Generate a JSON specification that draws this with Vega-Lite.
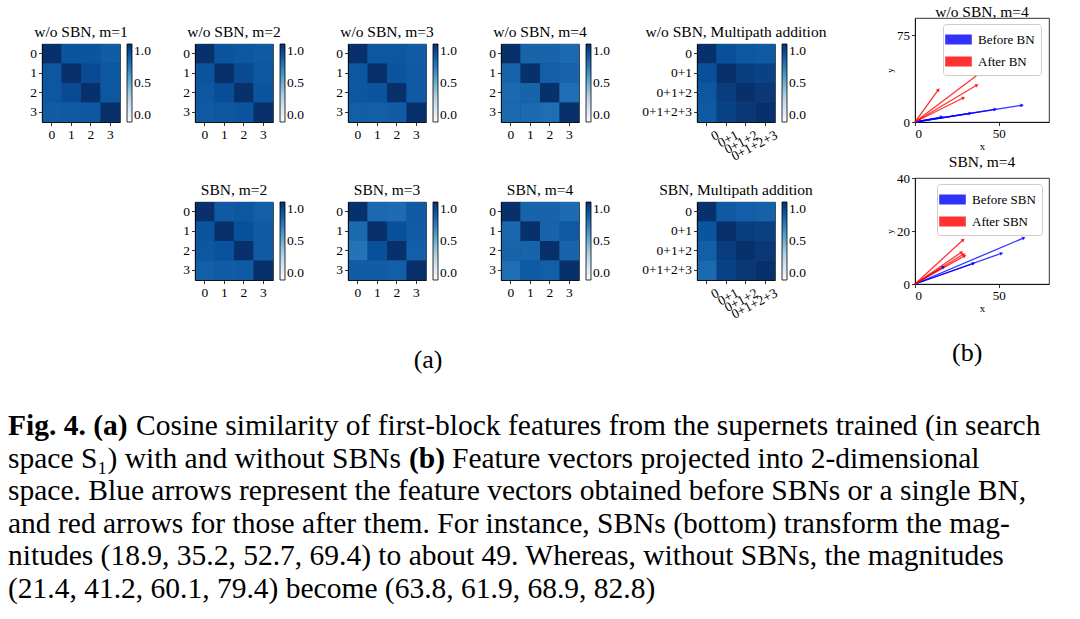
{
 "$schema": "https://vega.github.io/schema/vega-lite/v6.json",
 "background": "white",
 "autosize": {"type": "pad"},
 "padding": {"left": 8, "top": 4, "right": 4, "bottom": 0},
 "datasets": {
  "hm": [
   {"p":"A1","r":"0","c":"0","v":1},{"p":"A1","r":"0","c":"1","v":0.86},{"p":"A1","r":"0","c":"2","v":0.86},{"p":"A1","r":"0","c":"3","v":0.83},
   {"p":"A1","r":"1","c":"0","v":0.85},{"p":"A1","r":"1","c":"1","v":1},{"p":"A1","r":"1","c":"2","v":0.9},{"p":"A1","r":"1","c":"3","v":0.85},
   {"p":"A1","r":"2","c":"0","v":0.85},{"p":"A1","r":"2","c":"1","v":0.9},{"p":"A1","r":"2","c":"2","v":1},{"p":"A1","r":"2","c":"3","v":0.85},
   {"p":"A1","r":"3","c":"0","v":0.83},{"p":"A1","r":"3","c":"1","v":0.84},{"p":"A1","r":"3","c":"2","v":0.85},{"p":"A1","r":"3","c":"3","v":1},
   {"p":"A2","r":"0","c":"0","v":1},{"p":"A2","r":"0","c":"1","v":0.86},{"p":"A2","r":"0","c":"2","v":0.85},{"p":"A2","r":"0","c":"3","v":0.84},
   {"p":"A2","r":"1","c":"0","v":0.86},{"p":"A2","r":"1","c":"1","v":1},{"p":"A2","r":"1","c":"2","v":0.9},{"p":"A2","r":"1","c":"3","v":0.85},
   {"p":"A2","r":"2","c":"0","v":0.85},{"p":"A2","r":"2","c":"1","v":0.89},{"p":"A2","r":"2","c":"2","v":1},{"p":"A2","r":"2","c":"3","v":0.86},
   {"p":"A2","r":"3","c":"0","v":0.84},{"p":"A2","r":"3","c":"1","v":0.85},{"p":"A2","r":"3","c":"2","v":0.86},{"p":"A2","r":"3","c":"3","v":1},
   {"p":"A3","r":"0","c":"0","v":1},{"p":"A3","r":"0","c":"1","v":0.85},{"p":"A3","r":"0","c":"2","v":0.85},{"p":"A3","r":"0","c":"3","v":0.83},
   {"p":"A3","r":"1","c":"0","v":0.85},{"p":"A3","r":"1","c":"1","v":1},{"p":"A3","r":"1","c":"2","v":0.86},{"p":"A3","r":"1","c":"3","v":0.84},
   {"p":"A3","r":"2","c":"0","v":0.85},{"p":"A3","r":"2","c":"1","v":0.86},{"p":"A3","r":"2","c":"2","v":1},{"p":"A3","r":"2","c":"3","v":0.84},
   {"p":"A3","r":"3","c":"0","v":0.82},{"p":"A3","r":"3","c":"1","v":0.82},{"p":"A3","r":"3","c":"2","v":0.83},{"p":"A3","r":"3","c":"3","v":1},
   {"p":"A4","r":"0","c":"0","v":1},{"p":"A4","r":"0","c":"1","v":0.8},{"p":"A4","r":"0","c":"2","v":0.8},{"p":"A4","r":"0","c":"3","v":0.78},
   {"p":"A4","r":"1","c":"0","v":0.8},{"p":"A4","r":"1","c":"1","v":1},{"p":"A4","r":"1","c":"2","v":0.82},{"p":"A4","r":"1","c":"3","v":0.8},
   {"p":"A4","r":"2","c":"0","v":0.78},{"p":"A4","r":"2","c":"1","v":0.8},{"p":"A4","r":"2","c":"2","v":1},{"p":"A4","r":"2","c":"3","v":0.76},
   {"p":"A4","r":"3","c":"0","v":0.78},{"p":"A4","r":"3","c":"1","v":0.78},{"p":"A4","r":"3","c":"2","v":0.76},{"p":"A4","r":"3","c":"3","v":1},
   {"p":"A5","r":"0","c":"0","v":1},{"p":"A5","r":"0","c":"0+1","v":0.88},{"p":"A5","r":"0","c":"0+1+2","v":0.85},{"p":"A5","r":"0","c":"0+1+2+3","v":0.84},
   {"p":"A5","r":"0+1","c":"0","v":0.88},{"p":"A5","r":"0+1","c":"0+1","v":1},{"p":"A5","r":"0+1","c":"0+1+2","v":0.95},{"p":"A5","r":"0+1","c":"0+1+2+3","v":0.93},
   {"p":"A5","r":"0+1+2","c":"0","v":0.85},{"p":"A5","r":"0+1+2","c":"0+1","v":0.95},{"p":"A5","r":"0+1+2","c":"0+1+2","v":1},{"p":"A5","r":"0+1+2","c":"0+1+2+3","v":0.97},
   {"p":"A5","r":"0+1+2+3","c":"0","v":0.84},{"p":"A5","r":"0+1+2+3","c":"0+1","v":0.93},{"p":"A5","r":"0+1+2+3","c":"0+1+2","v":0.97},{"p":"A5","r":"0+1+2+3","c":"0+1+2+3","v":1},
   {"p":"B2","r":"0","c":"0","v":1},{"p":"B2","r":"0","c":"1","v":0.84},{"p":"B2","r":"0","c":"2","v":0.85},{"p":"B2","r":"0","c":"3","v":0.82},
   {"p":"B2","r":"1","c":"0","v":0.86},{"p":"B2","r":"1","c":"1","v":1},{"p":"B2","r":"1","c":"2","v":0.88},{"p":"B2","r":"1","c":"3","v":0.84},
   {"p":"B2","r":"2","c":"0","v":0.85},{"p":"B2","r":"2","c":"1","v":0.87},{"p":"B2","r":"2","c":"2","v":1},{"p":"B2","r":"2","c":"3","v":0.84},
   {"p":"B2","r":"3","c":"0","v":0.82},{"p":"B2","r":"3","c":"1","v":0.83},{"p":"B2","r":"3","c":"2","v":0.84},{"p":"B2","r":"3","c":"3","v":1},
   {"p":"B3","r":"0","c":"0","v":1},{"p":"B3","r":"0","c":"1","v":0.78},{"p":"B3","r":"0","c":"2","v":0.77},{"p":"B3","r":"0","c":"3","v":0.84},
   {"p":"B3","r":"1","c":"0","v":0.78},{"p":"B3","r":"1","c":"1","v":1},{"p":"B3","r":"1","c":"2","v":0.88},{"p":"B3","r":"1","c":"3","v":0.83},
   {"p":"B3","r":"2","c":"0","v":0.74},{"p":"B3","r":"2","c":"1","v":0.88},{"p":"B3","r":"2","c":"2","v":1},{"p":"B3","r":"2","c":"3","v":0.82},
   {"p":"B3","r":"3","c":"0","v":0.83},{"p":"B3","r":"3","c":"1","v":0.83},{"p":"B3","r":"3","c":"2","v":0.82},{"p":"B3","r":"3","c":"3","v":1},
   {"p":"B4","r":"0","c":"0","v":1},{"p":"B4","r":"0","c":"1","v":0.8},{"p":"B4","r":"0","c":"2","v":0.8},{"p":"B4","r":"0","c":"3","v":0.77},
   {"p":"B4","r":"1","c":"0","v":0.79},{"p":"B4","r":"1","c":"1","v":1},{"p":"B4","r":"1","c":"2","v":0.8},{"p":"B4","r":"1","c":"3","v":0.84},
   {"p":"B4","r":"2","c":"0","v":0.8},{"p":"B4","r":"2","c":"1","v":0.8},{"p":"B4","r":"2","c":"2","v":1},{"p":"B4","r":"2","c":"3","v":0.8},
   {"p":"B4","r":"3","c":"0","v":0.76},{"p":"B4","r":"3","c":"1","v":0.84},{"p":"B4","r":"3","c":"2","v":0.82},{"p":"B4","r":"3","c":"3","v":1},
   {"p":"B5","r":"0","c":"0","v":1},{"p":"B5","r":"0","c":"0+1","v":0.84},{"p":"B5","r":"0","c":"0+1+2","v":0.82},{"p":"B5","r":"0","c":"0+1+2+3","v":0.81},
   {"p":"B5","r":"0+1","c":"0","v":0.86},{"p":"B5","r":"0+1","c":"0+1","v":1},{"p":"B5","r":"0+1","c":"0+1+2","v":0.95},{"p":"B5","r":"0+1","c":"0+1+2+3","v":0.94},
   {"p":"B5","r":"0+1+2","c":"0","v":0.82},{"p":"B5","r":"0+1+2","c":"0+1","v":0.95},{"p":"B5","r":"0+1+2","c":"0+1+2","v":1},{"p":"B5","r":"0+1+2","c":"0+1+2+3","v":0.97},
   {"p":"B5","r":"0+1+2+3","c":"0","v":0.78},{"p":"B5","r":"0+1+2+3","c":"0+1","v":0.93},{"p":"B5","r":"0+1+2+3","c":"0+1+2","v":0.97},{"p":"B5","r":"0+1+2+3","c":"0+1+2+3","v":1}
  ],
  "arrA": [
   {"g":"Before BN","x":16,"y":4.5},{"g":"Before BN","x":33,"y":7.5},{"g":"Before BN","x":48,"y":11},{"g":"Before BN","x":64,"y":14.5},
   {"g":"After BN","x":14,"y":28},{"g":"After BN","x":29,"y":21},{"g":"After BN","x":37,"y":32},{"g":"After BN","x":44,"y":48}
  ],
  "arrB": [
   {"g":"Before SBN","x":17,"y":6.5},{"g":"Before SBN","x":35,"y":7.8},{"g":"Before SBN","x":51.7,"y":11.6},{"g":"Before SBN","x":65,"y":17.4},
   {"g":"After SBN","x":28.8,"y":16.7},{"g":"After SBN","x":27.8,"y":12},{"g":"After SBN","x":29.8,"y":10.7},{"g":"After SBN","x":29,"y":11.3}
  ],
  "cap": [
   {"l":1,"k":"b0","t":"Fig. 4. (a)"},
   {"l":1,"k":"n1","t":"Cosine similarity of first-block features from the supernets trained (in search"},
   {"l":2,"k":"n","t":"space S₁) with and without SBNs"},
   {"l":2,"k":"b2","t":"(b)"},
   {"l":2,"k":"n2","t":"Feature vectors projected into 2-dimensional"},
   {"l":3,"k":"n","t":"space. Blue arrows represent the feature vectors obtained before SBNs or a single BN,"},
   {"l":4,"k":"n","t":"and red arrows for those after them. For instance, SBNs (bottom) transform the mag-"},
   {"l":5,"k":"n","t":"nitudes (18.9, 35.2, 52.7, 69.4) to about 49. Whereas, without SBNs, the magnitudes"},
   {"l":6,"k":"n","t":"(21.4, 41.2, 60.1, 79.4) become (63.8, 61.9, 68.9, 82.8)"}
  ]
 },
 "vconcat": [
  {
   "hconcat": [
    {
     "vconcat": [
      {"width": 10, "height": 1, "data": {"values": [{"a": 1}]}, "mark": {"type": "text", "text": ""}, "encoding": {}, "view": {"stroke": null}},
      {
       "columns": 5,
       "align": "each",
       "spacing": {"row": 18, "column": 30},
       "resolve": {"scale": {"color": "independent", "x": "independent", "y": "independent"}, "legend": {"color": "independent"}},
       "concat": [
        {"title": "w/o SBN, m=1", "width": 78, "height": 78, "view": {"fill": "#0b559f"}, "data": {"name": "hm"}, "transform": [{"filter": "datum.p == 'A1'"}], "mark": "rect",
         "encoding": {"x": {"field": "c", "type": "ordinal", "axis": {"title": null, "labelAngle": 0}}, "y": {"field": "r", "type": "ordinal", "axis": {"title": null}},
          "color": {"field": "v", "type": "quantitative", "scale": {"domain": [0, 0.125, 0.25, 0.375, 0.5, 0.625, 0.75, 0.875, 1], "range": ["#f7fbff", "#deebf7", "#c6dbef", "#9ecae1", "#6baed6", "#4292c6", "#2171b5", "#08519c", "#08306b"]}, "legend": {"type": "gradient", "title": null, "values": [0, 0.5, 1], "format": ".1f"}}}},
        {"title": "w/o SBN, m=2", "width": 78, "height": 78, "view": {"fill": "#0b559f"}, "data": {"name": "hm"}, "transform": [{"filter": "datum.p == 'A2'"}], "mark": "rect",
         "encoding": {"x": {"field": "c", "type": "ordinal", "axis": {"title": null, "labelAngle": 0}}, "y": {"field": "r", "type": "ordinal", "axis": {"title": null}},
          "color": {"field": "v", "type": "quantitative", "scale": {"domain": [0, 0.125, 0.25, 0.375, 0.5, 0.625, 0.75, 0.875, 1], "range": ["#f7fbff", "#deebf7", "#c6dbef", "#9ecae1", "#6baed6", "#4292c6", "#2171b5", "#08519c", "#08306b"]}, "legend": {"type": "gradient", "title": null, "values": [0, 0.5, 1], "format": ".1f"}}}},
        {"title": "w/o SBN, m=3", "width": 78, "height": 78, "view": {"fill": "#0b559f"}, "data": {"name": "hm"}, "transform": [{"filter": "datum.p == 'A3'"}], "mark": "rect",
         "encoding": {"x": {"field": "c", "type": "ordinal", "axis": {"title": null, "labelAngle": 0}}, "y": {"field": "r", "type": "ordinal", "axis": {"title": null}},
          "color": {"field": "v", "type": "quantitative", "scale": {"domain": [0, 0.125, 0.25, 0.375, 0.5, 0.625, 0.75, 0.875, 1], "range": ["#f7fbff", "#deebf7", "#c6dbef", "#9ecae1", "#6baed6", "#4292c6", "#2171b5", "#08519c", "#08306b"]}, "legend": {"type": "gradient", "title": null, "values": [0, 0.5, 1], "format": ".1f"}}}},
        {"title": "w/o SBN, m=4", "width": 78, "height": 78, "view": {"fill": "#0b559f"}, "data": {"name": "hm"}, "transform": [{"filter": "datum.p == 'A4'"}], "mark": "rect",
         "encoding": {"x": {"field": "c", "type": "ordinal", "axis": {"title": null, "labelAngle": 0}}, "y": {"field": "r", "type": "ordinal", "axis": {"title": null}},
          "color": {"field": "v", "type": "quantitative", "scale": {"domain": [0, 0.125, 0.25, 0.375, 0.5, 0.625, 0.75, 0.875, 1], "range": ["#f7fbff", "#deebf7", "#c6dbef", "#9ecae1", "#6baed6", "#4292c6", "#2171b5", "#08519c", "#08306b"]}, "legend": {"type": "gradient", "title": null, "values": [0, 0.5, 1], "format": ".1f"}}}},
        {"title": "w/o SBN, Multipath addition", "width": 78, "height": 78, "view": {"fill": "#0b559f"}, "data": {"name": "hm"}, "transform": [{"filter": "datum.p == 'A5'"}], "mark": "rect",
         "encoding": {"x": {"field": "c", "type": "ordinal", "axis": {"title": null, "labelAngle": -28, "labelAlign": "right", "labelBaseline": "top", "labelOffset": 8}},
          "y": {"field": "r", "type": "ordinal", "axis": {"title": null}},
          "color": {"field": "v", "type": "quantitative", "scale": {"domain": [0, 0.125, 0.25, 0.375, 0.5, 0.625, 0.75, 0.875, 1], "range": ["#f7fbff", "#deebf7", "#c6dbef", "#9ecae1", "#6baed6", "#4292c6", "#2171b5", "#08519c", "#08306b"]}, "legend": {"type": "gradient", "title": null, "values": [0, 0.5, 1], "format": ".1f"}}}},
        {"width": 78, "height": 78, "data": {"values": [{"a": 1}]}, "mark": {"type": "text", "text": ""}, "encoding": {}, "view": {"stroke": null}},
        {"title": "SBN, m=2", "width": 78, "height": 78, "view": {"fill": "#0b559f"}, "data": {"name": "hm"}, "transform": [{"filter": "datum.p == 'B2'"}], "mark": "rect",
         "encoding": {"x": {"field": "c", "type": "ordinal", "axis": {"title": null, "labelAngle": 0}}, "y": {"field": "r", "type": "ordinal", "axis": {"title": null}},
          "color": {"field": "v", "type": "quantitative", "scale": {"domain": [0, 0.125, 0.25, 0.375, 0.5, 0.625, 0.75, 0.875, 1], "range": ["#f7fbff", "#deebf7", "#c6dbef", "#9ecae1", "#6baed6", "#4292c6", "#2171b5", "#08519c", "#08306b"]}, "legend": {"type": "gradient", "title": null, "values": [0, 0.5, 1], "format": ".1f"}}}},
        {"title": "SBN, m=3", "width": 78, "height": 78, "view": {"fill": "#0b559f"}, "data": {"name": "hm"}, "transform": [{"filter": "datum.p == 'B3'"}], "mark": "rect",
         "encoding": {"x": {"field": "c", "type": "ordinal", "axis": {"title": null, "labelAngle": 0}}, "y": {"field": "r", "type": "ordinal", "axis": {"title": null}},
          "color": {"field": "v", "type": "quantitative", "scale": {"domain": [0, 0.125, 0.25, 0.375, 0.5, 0.625, 0.75, 0.875, 1], "range": ["#f7fbff", "#deebf7", "#c6dbef", "#9ecae1", "#6baed6", "#4292c6", "#2171b5", "#08519c", "#08306b"]}, "legend": {"type": "gradient", "title": null, "values": [0, 0.5, 1], "format": ".1f"}}}},
        {"title": "SBN, m=4", "width": 78, "height": 78, "view": {"fill": "#0b559f"}, "data": {"name": "hm"}, "transform": [{"filter": "datum.p == 'B4'"}], "mark": "rect",
         "encoding": {"x": {"field": "c", "type": "ordinal", "axis": {"title": null, "labelAngle": 0}}, "y": {"field": "r", "type": "ordinal", "axis": {"title": null}},
          "color": {"field": "v", "type": "quantitative", "scale": {"domain": [0, 0.125, 0.25, 0.375, 0.5, 0.625, 0.75, 0.875, 1], "range": ["#f7fbff", "#deebf7", "#c6dbef", "#9ecae1", "#6baed6", "#4292c6", "#2171b5", "#08519c", "#08306b"]}, "legend": {"type": "gradient", "title": null, "values": [0, 0.5, 1], "format": ".1f"}}}},
        {"title": "SBN, Multipath addition", "width": 78, "height": 78, "view": {"fill": "#0b559f"}, "data": {"name": "hm"}, "transform": [{"filter": "datum.p == 'B5'"}], "mark": "rect",
         "encoding": {"x": {"field": "c", "type": "ordinal", "axis": {"title": null, "labelAngle": -28, "labelAlign": "right", "labelBaseline": "top", "labelOffset": 8}},
          "y": {"field": "r", "type": "ordinal", "axis": {"title": null}},
          "color": {"field": "v", "type": "quantitative", "scale": {"domain": [0, 0.125, 0.25, 0.375, 0.5, 0.625, 0.75, 0.875, 1], "range": ["#f7fbff", "#deebf7", "#c6dbef", "#9ecae1", "#6baed6", "#4292c6", "#2171b5", "#08519c", "#08306b"]}, "legend": {"type": "gradient", "title": null, "values": [0, 0.5, 1], "format": ".1f"}}}}
       ]
      }
     ],
     "spacing": 0,
     "title": {"text": "(a)", "orient": "bottom", "anchor": "middle", "fontSize": 26, "offset": 26},
     "resolve": {"scale": {"color": "independent", "x": "independent", "y": "independent"}, "legend": {"color": "independent"}}
    },
    {
     "vconcat": [
      {"title": {"text": "w/o SBN, m=4", "offset": -2}, "width": 134, "height": 104, "data": {"name": "arrA"},
       "layer": [
        {"mark": {"type": "rule", "strokeWidth": 1.3, "opacity": 0.8},
         "encoding": {
          "x": {"field": "x", "type": "quantitative", "scale": {"domain": [0, 80], "nice": false}, "axis": {"values": [0, 50], "title": "x", "titleFontSize": 11, "titlePadding": 0, "labelFontSize": 13, "labelOverlap": false}},
          "x2": {"datum": 0},
          "y": {"field": "y", "type": "quantitative", "scale": {"domain": [0, 90], "nice": false}, "axis": {"values": [0, 25, 50, 75], "title": "y", "titleFontSize": 9, "titlePadding": 2, "labelFontSize": 13, "labelOverlap": false}},
          "y2": {"datum": 0},
          "color": {"field": "g", "type": "nominal", "scale": {"domain": ["Before BN", "After BN"], "range": ["#0000ff", "#ff0000"]},
           "legend": {"title": null, "orient": "none", "legendX": 28, "legendY": 6, "padding": 6, "strokeColor": "#cccccc", "fillColor": "white", "cornerRadius": 3,
            "symbolType": "M-1.5,-0.5L1.5,-0.5L1.5,0.5L-1.5,0.5Z", "symbolSize": 280, "labelFontSize": 13, "rowPadding": 5, "labelOffset": 10,
            "encode": {"symbols": {"update": {"fill": {"signal": "datum.value === 'Before BN' ? '#0000ff' : '#ff0000'"}, "strokeWidth": {"value": 0}, "opacity": {"value": 1}}}}}}
         }},
        {"transform": [{"calculate": "90 - atan2(datum.y*1.156, datum.x*1.675)*180/PI", "as": "ang"}],
         "mark": {"type": "point", "shape": "triangle-up", "filled": true, "size": 16, "opacity": 0.8},
         "encoding": {"x": {"field": "x", "type": "quantitative"}, "y": {"field": "y", "type": "quantitative"}, "color": {"field": "g", "type": "nominal"}, "angle": {"field": "ang", "type": "quantitative", "scale": null}}}
       ]},
      {"title": {"text": "SBN, m=4", "offset": 2}, "width": 134, "height": 106, "data": {"name": "arrB"},
       "layer": [
        {"mark": {"type": "rule", "strokeWidth": 1.3, "opacity": 0.8},
         "encoding": {
          "x": {"field": "x", "type": "quantitative", "scale": {"domain": [0, 80], "nice": false}, "axis": {"values": [0, 50], "title": "x", "titleFontSize": 11, "titlePadding": 0, "labelFontSize": 13, "labelOverlap": false}},
          "x2": {"datum": 0},
          "y": {"field": "y", "type": "quantitative", "scale": {"domain": [0, 40], "nice": false}, "axis": {"values": [0, 10, 20, 30, 40], "title": "y", "titleFontSize": 9, "titlePadding": 2, "labelFontSize": 13, "labelOverlap": false}},
          "y2": {"datum": 0},
          "color": {"field": "g", "type": "nominal", "scale": {"domain": ["Before SBN", "After SBN"], "range": ["#0000ff", "#ff0000"]},
           "legend": {"title": null, "orient": "none", "legendX": 22, "legendY": 6, "padding": 6, "strokeColor": "#cccccc", "fillColor": "white", "cornerRadius": 3,
            "symbolType": "M-1.5,-0.5L1.5,-0.5L1.5,0.5L-1.5,0.5Z", "symbolSize": 280, "labelFontSize": 13, "rowPadding": 5, "labelOffset": 10,
            "encode": {"symbols": {"update": {"fill": {"signal": "datum.value === 'Before SBN' ? '#0000ff' : '#ff0000'"}, "strokeWidth": {"value": 0}, "opacity": {"value": 1}}}}}}
         }},
        {"transform": [{"calculate": "90 - atan2(datum.y*2.65, datum.x*1.675)*180/PI", "as": "ang"}],
         "mark": {"type": "point", "shape": "triangle-up", "filled": true, "size": 16, "opacity": 0.8},
         "encoding": {"x": {"field": "x", "type": "quantitative"}, "y": {"field": "y", "type": "quantitative"}, "color": {"field": "g", "type": "nominal"}, "angle": {"field": "ang", "type": "quantitative", "scale": null}}}
       ]}
     ],
     "spacing": 2,
     "title": {"text": "(b)", "orient": "bottom", "anchor": "middle", "fontSize": 26, "offset": 26},
     "resolve": {"scale": {"color": "independent", "x": "independent", "y": "independent"}, "legend": {"color": "independent"}}
    }
   ],
   "spacing": 58,
   "resolve": {"scale": {"color": "independent", "x": "independent", "y": "independent"}, "legend": {"color": "independent"}}
  },
  {
   "width": 1040, "height": 195, "data": {"name": "cap"}, "view": {"stroke": null},
   "encoding": {"y": {"field": "l", "type": "ordinal", "axis": null}, "x": {"value": 0}, "text": {"field": "t"}},
   "layer": [
    {"transform": [{"filter": "datum.k == 'b0'"}], "mark": {"type": "text", "align": "left", "baseline": "middle", "fontSize": 29.5, "fontWeight": "bold", "dx": -34}},
    {"transform": [{"filter": "datum.k == 'n1'"}], "mark": {"type": "text", "align": "left", "baseline": "middle", "fontSize": 29.5, "dx": 94}},
    {"transform": [{"filter": "datum.k == 'n'"}], "mark": {"type": "text", "align": "left", "baseline": "middle", "fontSize": 29.5, "dx": -34}},
    {"transform": [{"filter": "datum.k == 'b2'"}], "mark": {"type": "text", "align": "left", "baseline": "middle", "fontSize": 29.5, "fontWeight": "bold", "dx": 367}},
    {"transform": [{"filter": "datum.k == 'n2'"}], "mark": {"type": "text", "align": "left", "baseline": "middle", "fontSize": 29.5, "dx": 410}}
   ]
  }
 ],
 "spacing": 36,
 "resolve": {"scale": {"color": "independent", "x": "independent", "y": "independent"}, "legend": {"color": "independent"}},
 "config": {
  "font": "Liberation Serif",
  "view": {"stroke": "black", "strokeWidth": 0.8},
  "axis": {"labelFont": "Liberation Serif", "labelFontSize": 13.5, "labelColor": "black", "tickColor": "black", "domainColor": "black", "tickWidth": 0.8, "domainWidth": 0.8, "tickSize": 3.5, "labelPadding": 2, "grid": false, "titleFont": "Liberation Serif", "titleFontWeight": "normal", "titleColor": "black"},
  "title": {"font": "Liberation Serif", "fontSize": 15.5, "fontWeight": "normal", "color": "black", "offset": 0},
  "legend": {"labelFont": "Liberation Serif", "labelFontSize": 13.5, "labelColor": "black", "gradientLength": 78, "gradientThickness": 5, "offset": 7, "padding": 0, "gradientStrokeColor": "black", "gradientStrokeWidth": 0.8, "labelOffset": 6, "labelBaseline": "middle"},
  "text": {"font": "Liberation Serif", "color": "black"}
 }
}
